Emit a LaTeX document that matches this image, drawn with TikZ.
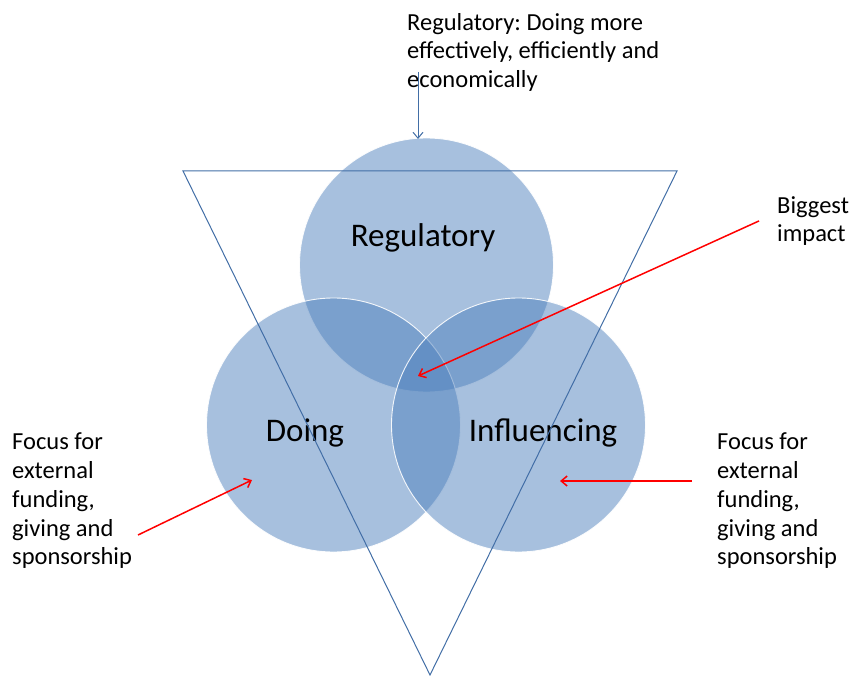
\documentclass[tikz,border=0pt]{standalone}
\usepackage{fontspec}
\setmainfont{Carlito}
\usetikzlibrary{arrows.meta,positioning}
\definecolor{venn}{RGB}{79,129,189}
\definecolor{edge}{RGB}{66,110,166}
\frenchspacing

\begin{document}
\begin{tikzpicture}[x=1pt,y=-1pt,>={Straight Barb[length=6pt,width=10pt]},
  set/.style={circle,minimum size=254pt,inner sep=0pt,fill=venn,fill opacity=0.5,draw=white,draw opacity=0.9,line width=0.9pt},
  big/.style={font=\fontsize{33}{40}\selectfont},
  note/.style={align=left,anchor=north west,inner sep=0pt,font=\fontsize{24.5}{28.7}\selectfont},
  hit/.style={->,red,line width=1.5pt}]
\useasboundingbox (0,0) rectangle (854,676);
% the three sets
\node[set] (reg) at (426.5,265) {};
\node[set] (doing) at (333.5,425) {};
\node[set] (infl) at (518.5,425) {};
\node[big] at (423,238) {Regulatory};
\node[big] at (305,433) {Doing};
\node[big] at (543,433) {Influencing};
% inverted triangle
\coordinate (tl) at (183,171);
\coordinate (tr) at (677,171);
\coordinate (tb) at (430,675);
\draw[edge,line width=1pt] (tl)--(tr)--(tb)--cycle;
% notes
\node[note] (aim) at (407,13) {Regulatory: Doing more\\effectively, efficiently and\\economically};
\node[note] (big) at (777,196) {Biggest\\impact};
\node[note] (lfocus) at (12,433) {Focus for\\external\\funding,\\giving and\\sponsorship};
\node[note] (rfocus) at (717,433) {Focus for\\external\\funding,\\giving and\\sponsorship};
% pointers
\coordinate (aimend) at (418,72);
\coordinate (regtop) at (418,139);
\coordinate (hub) at (418,376);
\coordinate (lstart) at (138,535);
\coordinate (lend) at (252,480);
\coordinate (rstart) at (692,481);
\coordinate (rend) at (560,481);
\draw[->,edge,line width=1pt] (aimend)--(regtop);
\draw[hit] ([xshift=-18pt]big.west)--(hub);
\draw[hit] (lstart)--(lend);
\draw[hit] (rstart)--(rend);
\end{tikzpicture}
\end{document}
